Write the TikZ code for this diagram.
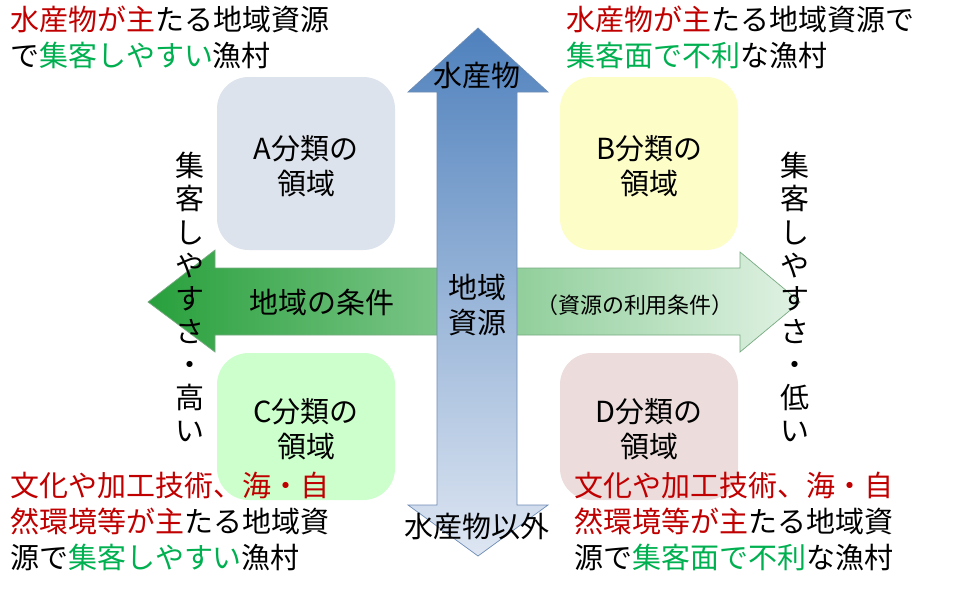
\documentclass[tikz,border=0pt]{standalone}
\usepackage{fontspec}
\setmainfont{Noto Sans CJK JP}
\definecolor{jred}{HTML}{C00000}
\definecolor{jgreen}{HTML}{00B050}
\tikzset{
  areabox/.style={rounded corners=18pt},
  lbl/.style={font=\fontsize{16.5}{20.5}\selectfont, align=left, inner sep=0pt},
  boxlbl/.style={font=\fontsize{16.5}{20}\selectfont, align=center, inner sep=0pt},
  vlbl/.style={font=\fontsize{16.5}{18.8}\selectfont, align=center, inner sep=0pt}
}
\newcommand{\rd}[1]{\textcolor{jred}{#1}}
\newcommand{\gr}[1]{\textcolor{jgreen}{#1}}
\begin{document}
\begin{tikzpicture}[x=0.02cm,y=-0.02cm]
  \useasboundingbox (0,0) rectangle (960,592);
  % areas
  \fill[areabox, fill={rgb,255:red,221;green,227;blue,236}] (217,77) rectangle (395,250);
  \fill[areabox, fill={rgb,255:red,253;green,253;blue,200}] (560,77) rectangle (738,250);
  \fill[areabox, fill={rgb,255:red,204;green,255;blue,204}] (217,353) rectangle (395,500);
  \fill[areabox, fill={rgb,255:red,236;green,220;blue,220}] (560,353) rectangle (738,500);
  \node[boxlbl] (a) at (306,166) {A分類の\\領域};
  \node[boxlbl] (b) at (649,166) {B分類の\\領域};
  \node[boxlbl] (c) at (306,429) {C分類の\\領域};
  \node[boxlbl] (d) at (649,429) {D分類の\\領域};
  % horizontal arrow
  \shade[left color={rgb,255:red,40;green,160;blue,60}, right color={rgb,255:red,225;green,242;blue,228},
         draw={rgb,255:red,120;green,170;blue,130}]
    (148,302) -- (215,250) -- (215,268) -- (740,268) -- (740,252) -- (800,302)
    -- (740,352) -- (740,335) -- (215,335) -- (215,352) -- cycle;
  % vertical arrow
  \shade[top color={rgb,255:red,79;green,129;blue,189}, bottom color={rgb,255:red,222;green,230;blue,242},
         draw={rgb,255:red,110;green,140;blue,180}]
    (478,28) -- (548,92) -- (517,92) -- (517,505) -- (548,505) -- (478,556)
    -- (408,505) -- (437,505) -- (437,92) -- (408,92) -- cycle;
  \node[boxlbl] (cond) at (322,302) {地域の条件};
  \node[boxlbl, font=\fontsize{12.5}{14}\selectfont] (use) at (635,305) {（資源の利用条件）};
  \node[boxlbl] (res) at (477,305) {地域\\資源};
  \node[boxlbl] (top) at (477,75) {水産物};
  \node[boxlbl] (bot) at (477,527) {水産物以外};
  % vertical labels
  \node[vlbl] (high) at (190,297) {集\\客\\し\\や\\す\\さ\\・\\高\\い};
  \node[vlbl] (low) at (795,297) {集\\客\\し\\や\\す\\さ\\・\\低\\い};
  % corner texts
  \node[lbl, anchor=north west] (tl) at (10,6) {\rd{水産物が主}たる地域資源\\で\gr{集客しやすい}漁村};
  \node[lbl, anchor=north west] (tr) at (566,6) {\rd{水産物が主}たる地域資源で\\\gr{集客面で不利}な漁村};
  \node[lbl, anchor=north west] (bl) at (10,472) {\rd{文化や加工技術、海・自}\\\rd{然環境等が主}たる地域資\\源で\gr{集客しやすい}漁村};
  \node[lbl, anchor=north west] (br) at (574,472) {\rd{文化や加工技術、海・自}\\\rd{然環境等が主}たる地域資\\源で\gr{集客面で不利}な漁村};
\end{tikzpicture}
\end{document}
